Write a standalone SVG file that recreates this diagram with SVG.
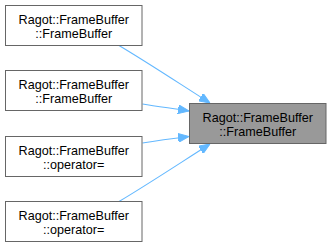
<svg xmlns="http://www.w3.org/2000/svg" width="331" height="247" viewBox="0 0 331 247">
  <style>
    .node rect { fill: #ffffff; stroke: #666666; stroke-width: 1; }
    .node.current rect { fill: #999999; stroke: #666666; }
    .node text { font-family: "Liberation Sans", Arial, sans-serif; font-size: 12.6px; fill: #000000; text-anchor: middle; }
    .edge { fill: none; stroke: #63b8ff; stroke-width: 1.1; }
    .head { fill: #63b8ff; stroke: #63b8ff; stroke-width: 1; }
  </style>
  <defs>
    <marker id="arrow" viewBox="0 0 11 9" refX="11" refY="4.5" markerWidth="11" markerHeight="9" markerUnits="userSpaceOnUse" orient="auto">
      <path d="M0,0 L11,4.5 L0,9 Z" class="head"/>
    </marker>
  </defs>

  <g id="connectors">
    <path class="edge" d="M119,45.5 C150,64 180,84 210,103" marker-end="url(#arrow)"/>
    <path class="edge" d="M142.5,104 C158,106.5 173,108.5 189,111" marker-end="url(#arrow)"/>
    <path class="edge" d="M142.5,143 C158,140.5 173,138.5 189,136.5" marker-end="url(#arrow)"/>
    <path class="edge" d="M119,201.5 C150,183 180,163 210,144" marker-end="url(#arrow)"/>
  </g>

  <g id="node-ctor-1" class="node">
    <rect x="5.5" y="5.5" width="136.5" height="40"/>
    <text x="73.75" y="23.5">Ragot::FrameBuffer</text>
    <text x="73.75" y="37.5">::FrameBuffer</text>
  </g>

  <g id="node-ctor-2" class="node">
    <rect x="5.5" y="70.5" width="136.5" height="40"/>
    <text x="73.75" y="88.5">Ragot::FrameBuffer</text>
    <text x="73.75" y="102.5">::FrameBuffer</text>
  </g>

  <g id="node-assign-1" class="node">
    <rect x="5.5" y="136.5" width="136.5" height="40"/>
    <text x="73.75" y="154.5">Ragot::FrameBuffer</text>
    <text x="73.75" y="168.5">::operator=</text>
  </g>

  <g id="node-assign-2" class="node">
    <rect x="5.5" y="201.5" width="136.5" height="40"/>
    <text x="73.75" y="219.5">Ragot::FrameBuffer</text>
    <text x="73.75" y="233.5">::operator=</text>
  </g>

  <g id="node-target" class="node current">
    <rect x="189.5" y="103.5" width="136.5" height="40"/>
    <text x="257.75" y="121.5">Ragot::FrameBuffer</text>
    <text x="257.75" y="135.5">::FrameBuffer</text>
  </g>
</svg>
